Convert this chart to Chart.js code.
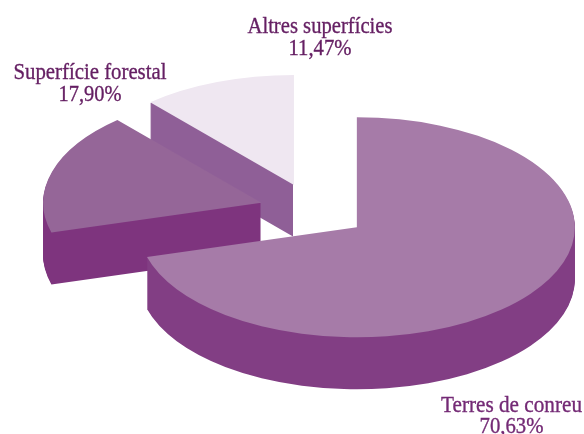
<!DOCTYPE html>
<html>
<head>
<meta charset="utf-8">
<style>html,body{margin:0;padding:0;background:#fff}#w{width:584px;height:434px}canvas{display:block}</style>
<script src="https://cdn.jsdelivr.net/npm/chart.js@4"></script>
</head>
<body>
<div id="w"><canvas id="c"></canvas></div>
<script>
const categories = ["Terres de conreu", "Superfície forestal", "Altres superfícies"];
const values = [70.63, 17.90, 11.47];
const valueLabels = ["70,63%", "17,90%", "11,47%"];
const topColors = ["#A67BA8", "#956698", "#EFE7F1"];
const wallColors = ["#823E84", "#7E347E", "#8F5F97"];
const explode = [55, 54, 54];

const view = {cx: 313, cy: 210.5, rx: 218, ry: 110, depth: 52};
const labelPos = [
  {x: 511.5, y1: 412, y2: 433, w1: 141, w2: 64, color: "#742A75"},
  {x: 90,  y1: 79,  y2: 101, w1: 153, w2: 63, color: "#651F63"},
  {x: 320, y1: 33,  y2: 55,  w1: 145, w2: 63, color: "#651F63"}
];

const pie3d = {
  id: "pie3d",
  beforeDatasetDraw(chart, args) {
    const ctx = chart.ctx;
    const arcs = args.meta.data;
    const W = chart.width, H = chart.height;
    const layer = document.createElement("canvas");
    layer.width = W;
    layer.height = H;
    const lctx = layer.getContext("2d");
    ctx.save();
    ctx.globalCompositeOperation = "destination-over";
    // front slice first: everything later slides underneath what is already painted
    [0, 1, 2].forEach(i => {
      const arc = arcs[i];
      const base = arc.options;
      const mid = (arc.startAngle + arc.endAngle) / 2;
      const ox = view.cx + Math.cos(mid) * explode[i];
      const oy = view.cy + Math.sin(mid) * explode[i] * view.ry / view.rx;
      const paint = (c, dy, color) => {
        c.save();
        c.translate(ox, oy + dy);
        c.scale(view.rx / arc.outerRadius, view.ry / arc.outerRadius);
        c.translate(-arc.x, -arc.y);
        arc.options = Object.assign({}, base, {backgroundColor: color});
        arc.draw(c);
        c.restore();
      };
      paint(ctx, 0, topColors[i]);
      // extrusion goes to a side layer, flattened to one colour before it is laid under the face
      lctx.save();
      lctx.clearRect(0, 0, W, H);
      lctx.globalCompositeOperation = "source-over";
      lctx.beginPath();
      if (i === 0) {
        lctx.rect(0, 0, W, H);
        lctx.rect(0, 0, Math.round(ox) + 1, Math.round(oy) + 1);
        lctx.clip("evenodd");
      } else if (i === 2) {
        lctx.rect(0, 0, Math.floor(ox), H);
        lctx.clip();
      }
      for (let d = 1; d <= view.depth; d++) paint(lctx, d, "#000");
      lctx.restore();
      lctx.save();
      lctx.globalCompositeOperation = "source-in";
      lctx.fillStyle = wallColors[i];
      lctx.fillRect(0, 0, W, H);
      lctx.restore();
      ctx.drawImage(layer, 0, 0);
      arc.options = base;
    });
    ctx.restore();
    return false;
  },
  afterDraw(chart) {
    const ctx = chart.ctx;
    ctx.save();
    ctx.textAlign = "center";
    ctx.textBaseline = "alphabetic";
    ctx.font = '23px "Liberation Serif"';
    ctx.lineWidth = 0.35;
    categories.forEach((name, i) => {
      const p = labelPos[i];
      ctx.fillStyle = p.color;
      ctx.strokeStyle = p.color;
      ctx.fillText(name, p.x, p.y1, p.w1);
      ctx.strokeText(name, p.x, p.y1, p.w1);
      ctx.fillText(valueLabels[i], p.x, p.y2, p.w2);
      ctx.strokeText(valueLabels[i], p.x, p.y2, p.w2);
    });
    ctx.restore();
  }
};

new Chart(document.getElementById("c"), {
  type: "pie",
  data: {
    labels: categories,
    datasets: [{data: values, backgroundColor: topColors, borderWidth: 0}]
  },
  options: {
    responsive: true,
    maintainAspectRatio: false,
    animation: false,
    layout: {padding: 0},
    plugins: {legend: {display: false}, tooltip: {enabled: false}}
  },
  plugins: [pie3d]
});
</script>
</body>
</html>
